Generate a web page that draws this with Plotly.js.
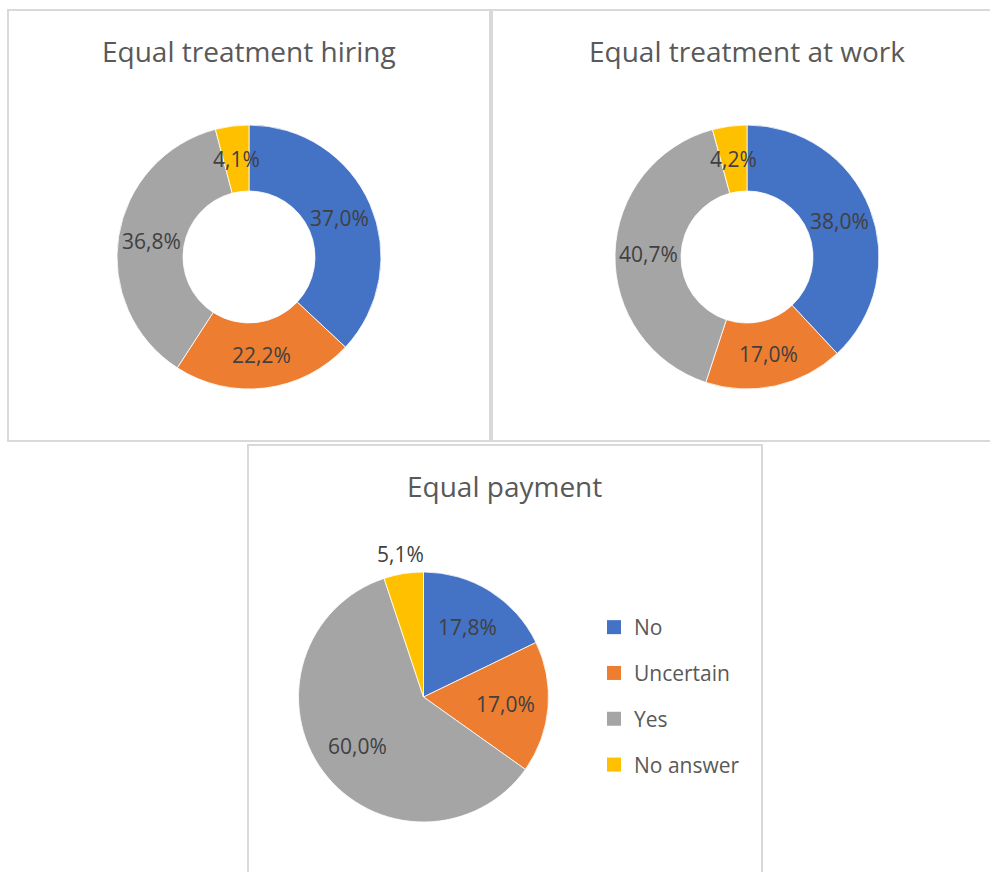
<!DOCTYPE html>
<html>
<head>
<meta charset="utf-8">
<script src="https://cdn.plot.ly/plotly-3.0.1.min.js"></script>
<style>html,body{margin:0;padding:0;background:#fff;}#chart{width:990px;height:872px;}</style>
</head>
<body>
<div id="chart"></div>
<script>
// ---- data ----
const categories = ['No', 'Uncertain', 'Yes', 'No answer'];
const hiringValues = [37.0, 22.2, 36.8, 4.1];
const workValues = [38.0, 17.0, 40.7, 4.2];
const paymentValues = [17.8, 17.0, 60.0, 5.1];
const chartTitles = ['Equal treatment hiring', 'Equal treatment at work', 'Equal payment'];

// ---- style / layout constants ----
const W = 990, H = 872;
const colors = ['#4472C4', '#ED7D31', '#A5A5A5', '#FFC000'];
const FONT = 'Open Sans, Noto Sans, sans-serif';
const charts = [
  {values: hiringValues, cx: 249, cy: 257, r: 132, hole: 0.5, labelR: [0.75, 0.75, 0.75, 0.75], titleX: 249, titleY: 51},
  {values: workValues, cx: 747, cy: 257, r: 132, hole: 0.5, labelR: [0.75, 0.75, 0.75, 0.75], titleX: 747, titleY: 51},
  {values: paymentValues, cx: 423.5, cy: 697, r: 125, hole: 0, labelR: [0.66, 0.66, 0.66, 1.155], titleX: 505, titleY: 486}
];

const px = x => x / W;
const py = y => 1 - y / H;
const fmt = v => v.toFixed(1).replace('.', ',') + '%';

const traces = [];
const annotations = [];

charts.forEach((c, i) => {
  traces.push({
    type: 'pie',
    values: c.values,
    labels: categories,
    sort: false,
    direction: 'clockwise',
    rotation: 0,
    hole: c.hole,
    textinfo: 'none',
    showlegend: false,
    marker: {colors: colors, line: {color: '#ffffff', width: 0.8}},
    domain: {x: [px(c.cx - c.r), px(c.cx + c.r)], y: [py(c.cy + c.r), py(c.cy - c.r)]}
  });
  const total = c.values.reduce((a, b) => a + b, 0);
  let cum = 0;
  c.values.forEach((v, k) => {
    const mid = (cum + v / 2) / total * 2 * Math.PI;
    cum += v;
    const rr = c.r * c.labelR[k];
    annotations.push({
      xref: 'paper', yref: 'paper',
      x: px(c.cx + rr * Math.sin(mid)), y: py(c.cy - rr * Math.cos(mid)),
      xanchor: 'center', yanchor: 'middle', showarrow: false,
      text: fmt(v),
      font: {family: FONT, size: 21, color: '#404040'}
    });
  });
  annotations.push({
    xref: 'paper', yref: 'paper', x: px(c.titleX), y: py(c.titleY),
    xanchor: 'center', yanchor: 'middle', showarrow: false,
    text: chartTitles[i],
    font: {family: FONT, size: 28, color: '#595959'}
  });
});

// legend entries (one per category)
categories.forEach((cat, k) => {
  traces.push({
    type: 'scatter', mode: 'markers', x: [null], y: [null],
    name: cat, legendgroup: 'g' + k, showlegend: true,
    marker: {symbol: 'square', size: 14, color: colors[k]},
    hoverinfo: 'skip'
  });
});

// panel borders
const border = {color: '#d9d9d9', width: 2};
const rect = (x0, y0, x1, y1) => ({type: 'rect', xref: 'paper', yref: 'paper',
  x0: px(x0), x1: px(x1), y0: py(y1), y1: py(y0), line: border, fillcolor: 'rgba(0,0,0,0)', layer: 'below'});
const shapes = [
  rect(8, 10, 490, 441),
  rect(492, 10, 995, 441),
  rect(248, 445, 762, 880)
];

const layout = {
  width: W, height: H,
  margin: {l: 0, r: 0, t: 0, b: 0},
  paper_bgcolor: '#ffffff', plot_bgcolor: 'rgba(0,0,0,0)',
  font: {family: FONT},
  xaxis: {visible: false}, yaxis: {visible: false},
  showlegend: true,
  legend: {
    x: px(594), y: py(607), xanchor: 'left', yanchor: 'top',
    traceorder: 'grouped', tracegroupgap: 15.5,
    font: {family: FONT, size: 21, color: '#595959'},
    bgcolor: 'rgba(0,0,0,0)', borderwidth: 0
  },
  shapes: shapes,
  annotations: annotations
};

Plotly.newPlot('chart', traces, layout, {staticPlot: true, displayModeBar: false});
</script>
</body>
</html>
